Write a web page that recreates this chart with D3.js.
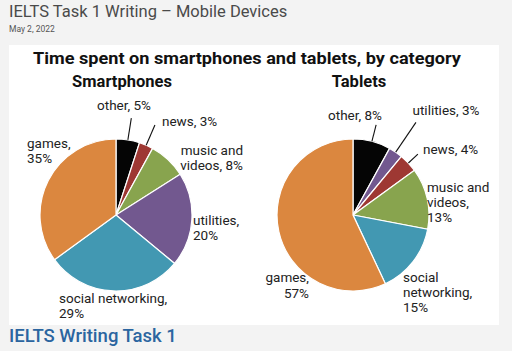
<!DOCTYPE html>
<html>
<head>
<meta charset="utf-8">
<script src="https://cdn.jsdelivr.net/npm/d3@7"></script>
<style>
  body { margin: 0; background: #f3f3f3; }
  svg { display: block; font-family: Roboto, "Open Sans", sans-serif; }
</style>
</head>
<body>
<svg id="chart" width="512" height="351"></svg>
<script>
// data
var categories = ["other", "news", "music and videos", "utilities", "social networking", "games"];
var smartphoneCats = ["other", "news", "music and videos", "utilities", "social networking", "games"];
var smartphoneValues = [5, 3, 8, 20, 29, 35];
var tabletCats = ["other", "utilities", "news", "music and videos", "social networking", "games"];
var tabletValues = [8, 3, 4, 13, 15, 57];

var color = d3.scaleOrdinal()
    .domain(categories)
    .range(["#050505", "#9e3833", "#88a44e", "#72588f", "#4298b2", "#db873f"]);

// label layout, relative to pie centre
var smartphoneLabels = {
    "other": {x: 8, anchor: "middle", lines: [["other, 5%", -105]], lead: 98},
    "news": {x: 46, anchor: "start", lines: [["news, 3%", -89]], lead: 98},
    "music and videos": {x: 127, anchor: "end", lines: [["music and", -60], ["videos, 8%", -45]]},
    "utilities": {x: 77, anchor: "start", lines: [["utilities,", 10], ["20%", 25]]},
    "social networking": {x: -57, anchor: "start", lines: [["social networking,", 88], ["29%", 103]]},
    "games": {x: -89, anchor: "start", lines: [["games,", -67], ["35%", -52]]}
};
var tabletLabels = {
    "other": {x: 2, anchor: "middle", lines: [["other, 8%", -95]], lead: 93},
    "utilities": {x: 93, anchor: "middle", lines: [["utilities, 3%", -100]], lead: 112},
    "news": {x: 70, anchor: "start", lines: [["news, 4%", -61]], lead: 89},
    "music and videos": {x: 74, anchor: "start", lines: [["music and", -23], ["videos,", -8], ["13%", 7]]},
    "social networking": {x: 50, anchor: "start", lines: [["social", 67], ["networking,", 82], ["15%", 97]]},
    "games": {x: -44, anchor: "end", lines: [["games,", 67], ["57%", 83]]}
};

var svg = d3.select("#chart");
var radius = 76;

// page header
svg.append("text")
    .attr("x", 9).attr("y", 17)
    .style("font-size", "16.5px").style("fill", "#4a4a4a")
    .text("IELTS Task 1 Writing \u2013 Mobile Devices");
svg.append("text")
    .attr("x", 9).attr("y", 32)
    .style("font-size", "8.5px").style("fill", "#555")
    .text("May 2, 2022");

// white panel
svg.append("rect")
    .attr("x", 9).attr("y", 45)
    .attr("width", 490).attr("height", 280)
    .style("fill", "#fff");

svg.append("text")
    .attr("x", 247).attr("y", 64)
    .attr("text-anchor", "middle")
    .attr("textLength", 428)
    .attr("lengthAdjust", "spacingAndGlyphs")
    .style("font-size", "16.5px").style("font-weight", "bold").style("fill", "#111")
    .text("Time spent on smartphones and tablets, by category");

// footer link
svg.append("text")
    .attr("x", 9).attr("y", 342)
    .style("font-size", "18.5px").style("font-weight", 500).style("fill", "#2b65a0")
    .text("IELTS Writing Task 1");

function drawPie(cx, cy, title, cats, values, labels) {
    var g = svg.append("g").attr("transform", "translate(" + cx + "," + cy + ")");

    g.append("text")
        .attr("x", 6).attr("y", -128)
        .attr("text-anchor", "middle")
        .style("font-size", "16.5px").style("font-weight", "bold").style("fill", "#111")
        .text(title);

    var data = cats.map(function(c, i) { return {key: c, value: values[i]}; });
    var pie = d3.pie().sort(null).value(function(d) { return d.value; });
    var arc = d3.arc().innerRadius(0).outerRadius(radius);
    var arcs = pie(data);

    g.selectAll("path")
        .data(arcs)
        .enter()
        .append("path")
        .attr("d", arc)
        .style("fill", function(d) { return color(d.data.key); })
        .style("stroke", "#fff")
        .style("stroke-width", 1.2);

    // leader lines
    g.selectAll("line")
        .data(arcs.filter(function(d) { return labels[d.data.key].lead; }))
        .enter()
        .append("line")
        .attr("x1", function(d) { return radius * Math.sin((d.startAngle + d.endAngle) / 2); })
        .attr("y1", function(d) { return -radius * Math.cos((d.startAngle + d.endAngle) / 2); })
        .attr("x2", function(d) { return labels[d.data.key].lead * Math.sin((d.startAngle + d.endAngle) / 2); })
        .attr("y2", function(d) { return -labels[d.data.key].lead * Math.cos((d.startAngle + d.endAngle) / 2); })
        .style("stroke", "#111")
        .style("stroke-width", 1.1);

    // labels
    arcs.forEach(function(d) {
        var lab = labels[d.data.key];
        lab.lines.forEach(function(l) {
            g.append("text")
                .attr("x", lab.x).attr("y", l[1])
                .attr("text-anchor", lab.anchor)
                .style("font-size", "13.5px").style("fill", "#222")
                .text(l[0]);
        });
    });
}

drawPie(116, 215, "Smartphones", smartphoneCats, smartphoneValues, smartphoneLabels);
drawPie(353, 215, "Tablets", tabletCats, tabletValues, tabletLabels);
</script>
</body>
</html>
